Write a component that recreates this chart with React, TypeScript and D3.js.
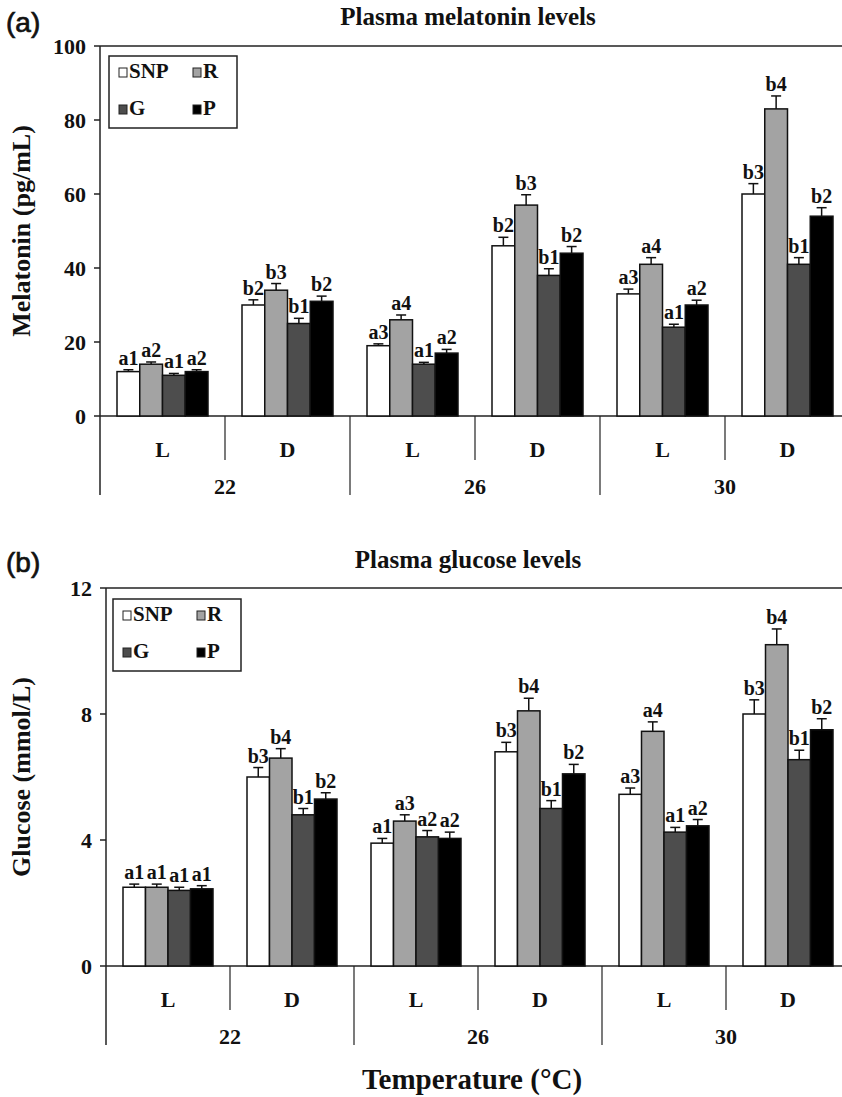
import React from "react";
import * as d3 from "d3";

const series = ["SNP", "R", "G", "P"];
const colors = ["#ffffff", "#a3a3a3", "#4d4d4d", "#000000"];
const phases = ["L", "D", "L", "D", "L", "D"];
const temps = ["22", "26", "30"];

const melValues = [
  [12, 14, 11, 12],
  [30, 34, 25, 31],
  [19, 26, 14, 17],
  [46, 57, 38, 44],
  [33, 41, 24, 30],
  [60, 83, 41, 54],
];
const melErrors = [
  [0.5, 0.6, 0.5, 0.5],
  [1.4, 1.8, 1.4, 1.4],
  [0.5, 1.3, 0.5, 1.0],
  [2.3, 2.8, 1.8, 1.8],
  [1.3, 1.8, 0.8, 1.3],
  [2.8, 3.5, 1.8, 2.3],
];
const melLabels = [
  ["a1", "a2", "a1", "a2"],
  ["b2", "b3", "b1", "b2"],
  ["a3", "a4", "a1", "a2"],
  ["b2", "b3", "b1", "b2"],
  ["a3", "a4", "a1", "a2"],
  ["b3", "b4", "b1", "b2"],
];
const melTicks = [0, 20, 40, 60, 80, 100];

const gluValues = [
  [2.5, 2.5, 2.4, 2.45],
  [6.0, 6.6, 4.8, 5.3],
  [3.9, 4.6, 4.1, 4.05],
  [6.8, 8.1, 5.0, 6.1],
  [5.45, 7.45, 4.25, 4.45],
  [8.0, 10.2, 6.55, 7.5],
];
const gluErrors = [
  [0.1, 0.1, 0.1, 0.1],
  [0.3, 0.3, 0.2, 0.2],
  [0.15, 0.2, 0.2, 0.2],
  [0.3, 0.4, 0.25, 0.3],
  [0.2, 0.3, 0.15, 0.2],
  [0.45, 0.5, 0.3, 0.35],
];
const gluLabels = [
  ["a1", "a1", "a1", "a1"],
  ["b3", "b4", "b1", "b2"],
  ["a1", "a3", "a2", "a2"],
  ["b3", "b4", "b1", "b2"],
  ["a3", "a4", "a1", "a2"],
  ["b3", "b4", "b1", "b2"],
];
const gluTicks = [0, 4, 8, 12];

const SERIF = "'Liberation Serif', 'Times New Roman', serif";
const SANS = "'Liberation Sans', Arial, sans-serif";

type PanelProps = {
  letter: string;
  title: string;
  ylabel: string;
  values: number[][];
  errors: number[][];
  labels: string[][];
  ticks: number[];
  axisX: number;
  topY: number;
  zeroY: number;
  groupW: number;
  letterY: number;
  titleY: number;
  legendX: number;
  legendY: number;
};

function Panel(p: PanelProps) {
  const yMax = p.ticks[p.ticks.length - 1];
  const y = d3.scaleLinear().domain([0, yMax]).range([p.zeroY, p.topY]);
  const cats = phases.map((_, i) => String(i));
  const x0 = d3
    .scaleBand()
    .domain(cats)
    .range([p.axisX, p.axisX + p.groupW * cats.length])
    .padding(0);
  const x1 = d3.scaleBand().domain(series).range([17, p.groupW - 17]).padding(0);
  const bw = x1.bandwidth();
  const phaseY = p.zeroY + 33;
  const tempY = p.zeroY + 70;
  const shortEnd = p.zeroY + 44;
  const longEnd = p.zeroY + 79;
  const rightEnd = p.axisX + p.groupW * cats.length;
  const ylabelCenter = (p.topY + p.zeroY) / 2;

  return (
    <g>
      <text
        x={6}
        y={p.letterY}
        fontFamily={SANS}
        fontSize={28}
        fill="#111"
        stroke="#111"
        strokeWidth={0.7}
      >
        {p.letter}
      </text>
      <text
        x={468}
        y={p.titleY}
        textAnchor="middle"
        fontFamily={SERIF}
        fontWeight="bold"
        fontSize={25}
        fill="#111"
      >
        {p.title}
      </text>
      <text
        transform={`translate(30,${ylabelCenter}) rotate(-90)`}
        textAnchor="middle"
        fontFamily={SERIF}
        fontWeight="bold"
        fontSize={26}
        fill="#111"
      >
        {p.ylabel}
      </text>
      <line x1={p.axisX} x2={rightEnd} y1={p.topY} y2={p.topY} stroke="#222" strokeWidth={1.5} />
      <line x1={p.axisX} x2={p.axisX} y1={p.topY} y2={longEnd} stroke="#222" strokeWidth={1.5} />
      {p.ticks.map((t) => (
        <g key={t}>
          <line x1={p.axisX - 6} x2={p.axisX} y1={y(t)} y2={y(t)} stroke="#222" strokeWidth={1.5} />
          <text
            x={p.axisX - 14}
            y={y(t)}
            dy="0.35em"
            textAnchor="end"
            fontFamily={SERIF}
            fontWeight="bold"
            fontSize={22}
            fill="#111"
          >
            {t}
          </text>
        </g>
      ))}
      <line x1={p.axisX} x2={rightEnd} y1={p.zeroY} y2={p.zeroY} stroke="#222" strokeWidth={1.5} />
      {cats.map((c, i) => {
        const gx = x0(c)!;
        return (
          <g key={c}>
            {i > 0 && (
              <line
                x1={gx}
                x2={gx}
                y1={p.zeroY}
                y2={i % 2 === 0 ? longEnd : shortEnd}
                stroke="#222"
                strokeWidth={1.2}
              />
            )}
            <text
              x={gx + p.groupW / 2}
              y={phaseY}
              dy="0.35em"
              textAnchor="middle"
              fontFamily={SERIF}
              fontWeight="bold"
              fontSize={22}
              fill="#111"
            >
              {phases[i]}
            </text>
            {p.values[i].map((v, j) => {
              const bx = gx + x1(series[j])!;
              const top = y(v);
              const et = y(v + p.errors[i][j]);
              const cx = bx + bw / 2;
              return (
                <g key={j}>
                  <line x1={cx} x2={cx} y1={top} y2={et} stroke="#111" strokeWidth={1.5} />
                  <line x1={cx - 5} x2={cx + 5} y1={et} y2={et} stroke="#111" strokeWidth={1.5} />
                  <rect
                    x={bx}
                    y={top}
                    width={bw}
                    height={p.zeroY - top}
                    fill={colors[j]}
                    stroke="#111"
                    strokeWidth={1.5}
                  />
                  <text
                    x={cx}
                    y={et - 5}
                    textAnchor="middle"
                    fontFamily={SERIF}
                    fontWeight="bold"
                    fontSize={20}
                    fill="#111"
                  >
                    {p.labels[i][j]}
                  </text>
                </g>
              );
            })}
          </g>
        );
      })}
      {temps.map((t, k) => (
        <text
          key={t}
          x={p.axisX + p.groupW * (2 * k + 1)}
          y={tempY}
          dy="0.35em"
          textAnchor="middle"
          fontFamily={SERIF}
          fontWeight="bold"
          fontSize={22}
          fill="#111"
        >
          {t}
        </text>
      ))}
      <g transform={`translate(${p.legendX},${p.legendY})`}>
        <rect x={0} y={0} width={128} height={72} fill="#fff" stroke="#222" strokeWidth={1.5} />
        {series.map((s, j) => {
          const col = j % 2;
          const row = Math.floor(j / 2);
          const lx = 10 + col * 74;
          const ly = 22 + row * 37;
          return (
            <g key={s}>
              <rect x={lx} y={ly - 10} width={8} height={9} fill={colors[j]} stroke="#222" strokeWidth={1} />
              <text x={lx + 10} y={ly} fontFamily={SERIF} fontWeight="bold" fontSize={21} fill="#111">
                {s}
              </text>
            </g>
          );
        })}
      </g>
    </g>
  );
}

export default function App() {
  return (
    <svg width={842} height={1097} style={{ display: "block", position: "absolute", left: 0, top: 0 }}>
      <rect width={842} height={1097} fill="#fff" />
      <Panel
        letter="(a)"
        title="Plasma melatonin levels"
        ylabel="Melatonin (pg/mL)"
        values={melValues}
        errors={melErrors}
        labels={melLabels}
        ticks={melTicks}
        axisX={100}
        topY={46}
        zeroY={416}
        groupW={125}
        letterY={32}
        titleY={25}
        legendX={109}
        legendY={56}
      />
      <Panel
        letter="(b)"
        title="Plasma glucose levels"
        ylabel="Glucose (mmol/L)"
        values={gluValues}
        errors={gluErrors}
        labels={gluLabels}
        ticks={gluTicks}
        axisX={106}
        topY={588}
        zeroY={966}
        groupW={124}
        letterY={572}
        titleY={568}
        legendX={113}
        legendY={599}
      />
      <text
        x={472}
        y={1089}
        textAnchor="middle"
        fontFamily={SERIF}
        fontWeight="bold"
        fontSize={29}
        fill="#111"
      >
        Temperature (°C)
      </text>
    </svg>
  );
}
